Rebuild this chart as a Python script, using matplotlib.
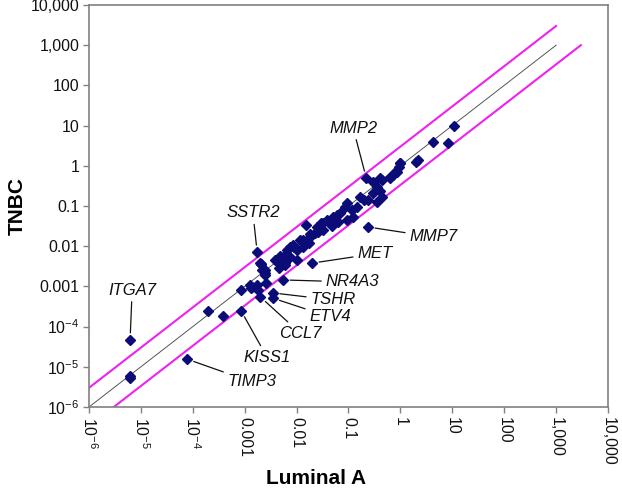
import matplotlib
matplotlib.use("Agg")
import matplotlib.pyplot as plt

# ==========================================
# 1. DATA
# ==========================================
LUMINAL_A = [
    6.2e-6, 6.2e-6, 6.2e-6, 7.8e-5, 2.0e-4, 3.8e-4, 8.5e-4, 8.5e-4, 1.26e-3,
    1.74e-3, 1.95e-3, 2.2e-3, 2.45e-3, 1.74e-3, 1.4e-3, 1.8e-3, 2.6e-3,
    2.0e-3, 3.5e-3, 3.5e-3, 5.5e-3, 3.8e-3, 4.4e-3, 5.2e-3, 8.5e-3, 0.0102,
    0.0132, 0.0151, 0.020, 0.018, 0.0245, 0.032, 0.22, 0.24, 0.0151, 8.9e-3,
    4.8e-3, 6.0e-3, 2.1e-3, 2.45e-3, 1.35e-3,
    0.0117, 0.018, 0.0224, 0.030, 0.038, 0.051, 0.059, 0.069, 0.085, 0.093,
    0.115, 0.145, 0.166, 0.195, 0.24, 0.30, 0.35, 0.44, 0.30, 0.44, 0.63,
    0.79, 0.98, 2.2, 4.3, 0.35, 0.41, 0.032, 0.048, 0.063, 0.026, 0.017,
    0.0135, 7.4e-3, 6.4e-3, 0.093, 0.123, 9.1e-3, 5.5e-3, 2.1e-3, 2.45e-3,
    11.0, 8.3, 2.0, 1.0, 0.93, 0.85, 0.72, 0.62, 0.41,
    4.5e-3, 6.0e-3, 7.4e-3, 0.010,
]
TNBC = [
    4.7e-5, 5.2e-6, 6.0e-6, 1.55e-5, 2.5e-4, 1.8e-4, 2.5e-4, 8.1e-4, 1.07e-3,
    7.2e-3, 3.8e-3, 2.6e-3, 2.1e-3, 1.07e-3, 9.8e-4, 8.1e-4, 1.2e-3,
    5.5e-4, 6.9e-4, 5.1e-4, 1.45e-3, 4.6e-3, 4.1e-3, 5.1e-3, 0.0107, 8.1e-3,
    0.0141, 0.012, 3.8e-3, 0.020, 0.030, 0.038, 0.50, 0.030, 0.034, 9.5e-3,
    5.8e-3, 3.8e-3, 3.7e-3, 1.9e-3, 8.9e-4,
    0.0141, 0.0174, 0.021, 0.037, 0.045, 0.054, 0.060, 0.066, 0.095, 0.117,
    0.079, 0.095, 0.17, 0.141, 0.141, 0.21, 0.129, 0.17, 0.40, 0.45, 0.54,
    0.71, 1.15, 1.38, 4.0, 0.30, 0.23, 0.025, 0.031, 0.041, 0.023, 0.0117,
    9.8e-3, 9.8e-3, 8.1e-3, 0.045, 0.054, 9.8e-3, 5.5e-3, 3.7e-3, 2.6e-3,
    9.8, 3.7, 1.26, 1.15, 0.91, 0.71, 0.59, 0.51, 0.49,
    2.8e-3, 3.4e-3, 5.5e-3, 4.6e-3,
]

# labelled genes: point position and text position
GENES = ["ITGA7", "MMP2", "SSTR2", "MMP7", "MET", "NR4A3",
         "TSHR", "ETV4", "CCL7", "KISS1", "TIMP3"]
GENE_X = [6.2e-6, 0.22, 1.74e-3, 0.24, 0.020, 5.5e-3,
          3.5e-3, 3.5e-3, 2.0e-3, 8.5e-4, 7.8e-5]
GENE_Y = [4.7e-5, 0.50, 7.2e-3, 0.030, 3.8e-3, 1.45e-3,
          6.9e-4, 5.1e-4, 5.5e-4, 2.5e-4, 1.55e-5]
LABEL_X = [6.8e-6, 0.123, 1.44e-3, 4.3, 0.32, 0.118,
           0.050, 0.044, 0.0117, 2.7e-3, 1.38e-3]
LABEL_Y = [8.1e-4, 8.7, 0.068, 0.017, 6.5e-3, 1.29e-3,
           4.6e-4, 1.74e-4, 6.9e-5, 1.74e-5, 4.2e-6]

TICKS = [1e-6, 1e-5, 1e-4, 1e-3, 1e-2, 1e-1, 1, 10, 100, 1000, 10000]
TICK_LABELS = ["10$^{-6}$", "10$^{-5}$", "10$^{-4}$", "0.001", "0.01", "0.1",
               "1", "10", "100", "1,000", "10,000"]

# reference lines: identity and 3-fold bounds
DIAG_X = [1e-6, 1000]
UPPER_X = [1e-6, 1000]
LOWER_X = [3e-6, 3000]
FOLD = 3

# ==========================================
# 2. STYLE
# ==========================================
plt.rcParams['font.family'] = ['Liberation Sans', 'DejaVu Sans']
plt.rcParams['mathtext.fontset'] = 'custom'
plt.rcParams['mathtext.rm'] = 'Liberation Sans'
plt.rcParams['mathtext.it'] = 'Liberation Sans:italic'
plt.rcParams['mathtext.bf'] = 'Liberation Sans:bold'

GREY = "#808080"
NAVY = "#0c0c78"
MAGENTA = "#ee22ee"

# ==========================================
# 3. PLOT
# ==========================================
fig = plt.figure(figsize=(6.22, 4.97), dpi=100)
ax = fig.add_axes([0.143, 0.181, 0.8345, 0.809])

ax.plot(DIAG_X, DIAG_X, color="#555555", lw=0.7, zorder=1)
ax.plot(UPPER_X, [v * FOLD for v in UPPER_X], color=MAGENTA, lw=1.5, zorder=1)
ax.plot(LOWER_X, [v / FOLD for v in LOWER_X], color=MAGENTA, lw=1.5, zorder=1)

ax.plot(LUMINAL_A, TNBC, linestyle="none", marker="D", ms=4.9,
        color=NAVY, mec=NAVY, zorder=3)

for g, gx, gy, tx, ty in zip(GENES, GENE_X, GENE_Y, LABEL_X, LABEL_Y):
    ax.annotate(g, xy=(gx, gy), xytext=(tx, ty), fontsize=12, style="italic",
                ha="center", va="center", color="#111111",
                arrowprops=dict(arrowstyle="-", color="#111111", lw=0.9,
                                shrinkA=1, shrinkB=5))

ax.set_xscale("log")
ax.set_yscale("log")
ax.set_xlim(1e-6, 1e4)
ax.set_ylim(1e-6, 1e4)

ax.set_xticks(TICKS)
ax.set_xticklabels(TICK_LABELS, rotation=270, ha="center", va="top")
ax.set_yticks(TICKS)
ax.set_yticklabels(TICK_LABELS)
ax.minorticks_off()
ax.tick_params(axis="both", direction="out", length=4, width=1, color=GREY,
               labelsize=11.5, labelcolor="#111111", pad=3)

for sp in ax.spines.values():
    sp.set_color(GREY)
    sp.set_linewidth(1.2)

fig.text(0.508, 0.038, "Luminal A", fontsize=15, fontweight="bold",
         ha="center", va="center")
fig.text(0.028, 0.585, "TNBC", fontsize=15, fontweight="bold",
         rotation=90, ha="center", va="center")

plt.savefig("out.png", dpi=100, facecolor="w")
plt.close()
